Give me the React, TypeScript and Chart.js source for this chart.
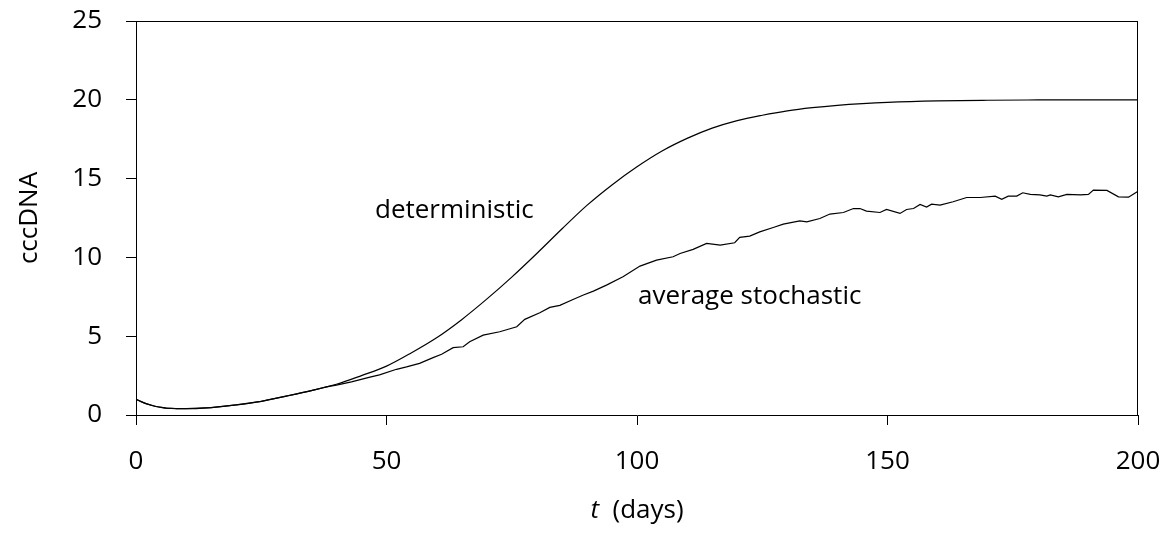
import React, { useEffect, useRef } from "react";
import { Chart, registerables } from "chart.js";

Chart.register(...registerables);

// deterministic model (time in days, cccDNA)
const detT = [0, 1, 2, 3, 4, 5, 6, 8, 10, 12, 15, 20, 25, 30, 35, 40, 45, 50, 55, 60, 65, 70, 75, 80, 85, 90, 95, 100, 105, 110, 115, 120, 125, 130, 135, 140, 145, 150, 160, 170, 180, 190, 200];
const detV = [1.0, 0.85, 0.72, 0.62, 0.54, 0.48, 0.44, 0.41, 0.40, 0.41, 0.47, 0.64, 0.87, 1.2, 1.55, 1.95, 2.5, 3.1, 3.95, 4.9, 6.05, 7.35, 8.75, 10.25, 11.8, 13.3, 14.6, 15.75, 16.75, 17.55, 18.2, 18.68, 19.02, 19.3, 19.5, 19.65, 19.76, 19.84, 19.93, 19.97, 19.99, 20.0, 20.0];

// average stochastic
const stoT = [0, 2, 4, 6, 8, 10, 15, 20, 25, 30, 35, 38, 40, 43, 46.7, 48.6, 52, 54, 56.6, 59.3, 61, 63.3, 65.3, 66.6, 69.3, 72.6, 76, 77.6, 80.6, 82.6, 84.6, 87, 89.3, 91.3, 93.9, 97.2, 100.6, 103.9, 107.2, 108.6, 111.2, 113.9, 116.6, 119.5, 120.5, 122.5, 124.5, 127.2, 129.2, 132.5, 133.9, 136.5, 138.5, 141.2, 143.2, 144.5, 145.8, 148.5, 149.8, 152.5, 153.8, 155.2, 156.5, 157.8, 158.8, 160.5, 163.1, 165.8, 168.5, 171.5, 172.8, 174.1, 175.8, 177, 178.5, 180.4, 181.8, 182.5, 184.1, 185.8, 188.5, 190.1, 191.1, 193.8, 196.1, 198.1, 200];
const stoV = [1.0, 0.72, 0.54, 0.44, 0.41, 0.40, 0.47, 0.64, 0.87, 1.2, 1.55, 1.78, 1.9, 2.1, 2.4, 2.55, 2.9, 3.05, 3.28, 3.64, 3.85, 4.27, 4.33, 4.65, 5.07, 5.28, 5.6, 6.07, 6.49, 6.83, 6.96, 7.3, 7.61, 7.86, 8.24, 8.77, 9.45, 9.83, 10.04, 10.25, 10.51, 10.89, 10.78, 10.93, 11.27, 11.35, 11.62, 11.9, 12.11, 12.32, 12.25, 12.47, 12.75, 12.85, 13.1, 13.1, 12.94, 12.85, 13.04, 12.79, 13.04, 13.1, 13.36, 13.2, 13.38, 13.32, 13.53, 13.8, 13.8, 13.89, 13.68, 13.89, 13.89, 14.1, 14.0, 13.97, 13.89, 13.97, 13.84, 14.0, 13.97, 14.0, 14.27, 14.25, 13.84, 13.82, 14.2];

const xTicks = [0, 50, 100, 150, 200];
const yTicks = [0, 5, 10, 15, 20, 25];

const curveLabels = ["deterministic", "average stochastic"];
const curveLabelT = [47.7, 100.2];
const curveLabelV = [12.49, 7.06];

const FONT = '"Open Sans", "DejaVu Sans", sans-serif';

const decorPlugin = {
  id: "decor",
  afterDraw(chart: any) {
    const { ctx, chartArea } = chart;
    const { left, top, right, bottom } = chartArea;
    const sx = chart.scales.x;
    const sy = chart.scales.y;
    ctx.save();
    ctx.strokeStyle = "#000";
    ctx.lineWidth = 1;
    ctx.beginPath();
    ctx.moveTo(left, Math.round(top) + 0.5);
    ctx.lineTo(right, Math.round(top) + 0.5);
    ctx.moveTo(Math.round(right) - 0.5, top);
    ctx.lineTo(Math.round(right) - 0.5, bottom);
    ctx.stroke();

    ctx.fillStyle = "#000";
    ctx.textBaseline = "alphabetic";
    ctx.textAlign = "left";
    ctx.font = `26px ${FONT}`;
    for (let i = 0; i < curveLabels.length; i++) {
      ctx.fillText(curveLabels[i], sx.getPixelForValue(curveLabelT[i]), sy.getPixelForValue(curveLabelV[i]));
    }

    // x-axis title: italic t + (days)
    const italic = `italic 26px ${FONT}`;
    const normal = `26px ${FONT}`;
    ctx.font = italic;
    const w1 = ctx.measureText("t").width;
    ctx.font = normal;
    const rest = "  (days)";
    const w2 = ctx.measureText(rest).width;
    const cx = (left + right) / 2;
    const x0 = cx - (w1 + w2) / 2;
    const baseY = chart.height - 16;
    ctx.font = italic;
    ctx.fillText("t", x0, baseY);
    ctx.font = normal;
    ctx.fillText(rest, x0 + w1, baseY);
    ctx.restore();
  },
};

const zeroPad = (s: any) => {
  s.paddingTop = 0;
  s.paddingBottom = 0;
  s.paddingLeft = 0;
  s.paddingRight = 0;
};

export default function App() {
  const ref = useRef<HTMLCanvasElement | null>(null);

  useEffect(() => {
    document.body.style.margin = "0";
    const canvas = ref.current;
    if (!canvas) return;
    Chart.defaults.font.family = FONT;
    Chart.defaults.font.size = 26;
    Chart.defaults.color = "#000";

    const chart = new Chart(canvas, {
      type: "line",
      data: {
        datasets: [
          {
            label: "deterministic",
            data: detT.map((t, i) => ({ x: t, y: detV[i] })),
            borderColor: "#000",
            borderWidth: 1.2,
            pointRadius: 0,
            cubicInterpolationMode: "monotone",
          },
          {
            label: "average stochastic",
            data: stoT.map((t, i) => ({ x: t, y: stoV[i] })),
            borderColor: "#000",
            borderWidth: 1.2,
            pointRadius: 0,
            tension: 0,
          },
        ],
      },
      options: {
        animation: false,
        responsive: false,
        devicePixelRatio: 1,
        layout: { padding: { top: 21, right: 29, left: 0, bottom: 0 } },
        plugins: { legend: { display: false }, tooltip: { enabled: false } },
        scales: {
          x: {
            type: "linear",
            min: 0,
            max: 200,
            afterFit: (s: any) => {
              s.height = 119;
              zeroPad(s);
            },
            afterBuildTicks: (s: any) => {
              s.ticks = xTicks.map((v) => ({ value: v }));
            },
            ticks: { padding: 21, maxRotation: 0, font: { size: 26 }, color: "#000" },
            grid: { drawOnChartArea: false, drawTicks: true, tickLength: 10, tickColor: "#000", tickWidth: 1 },
            border: { display: true, color: "#000", width: 1 },
            title: { display: false },
          },
          y: {
            type: "linear",
            min: 0,
            max: 25,
            afterFit: (s: any) => {
              s.width = 136;
              zeroPad(s);
            },
            afterBuildTicks: (s: any) => {
              s.ticks = yTicks.map((v) => ({ value: v }));
            },
            ticks: { padding: 24, font: { size: 26 }, color: "#000" },
            grid: { drawOnChartArea: false, drawTicks: true, tickLength: 10, tickColor: "#000", tickWidth: 1 },
            border: { display: true, color: "#000", width: 1 },
            title: {
              display: true,
              text: "cccDNA",
              font: { size: 26 },
              color: "#000",
              padding: { top: 14, bottom: 0 },
            },
          },
        },
      },
      plugins: [decorPlugin],
    } as any);
    return () => chart.destroy();
  }, []);

  return (
    <div style={{ position: "absolute", left: 0, top: 0, width: 1167, height: 534 }}>
      <canvas ref={ref} width={1167} height={534} style={{ display: "block" }} />
    </div>
  );
}
